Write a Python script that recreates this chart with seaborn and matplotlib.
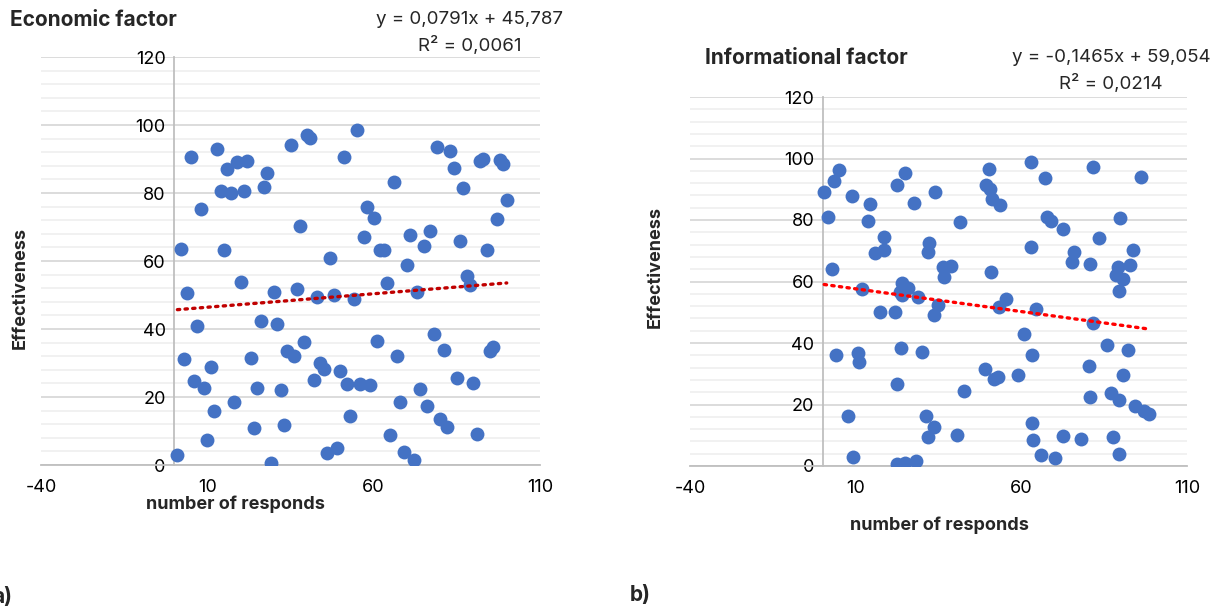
import numpy as np
import pandas as pd
import matplotlib
matplotlib.use("Agg")
import matplotlib.pyplot as plt
import seaborn as sns

# economic factor: responds 1..100, effectiveness
econ_x = list(range(1, 101))
econ_y = [3.0, 63.4, 31.2, 50.7, 90.7, 24.7, 40.9, 75.4, 22.7, 7.5,
          28.8, 15.9, 92.8, 80.6, 63.2, 87.0, 80.1, 18.4, 89.0, 53.8,
          80.6, 89.4, 31.6, 10.8, 22.6, 42.5, 81.7, 86.0, 0.5, 51.0,
          41.6, 22.1, 11.8, 33.6, 94.1, 32.1, 51.8, 70.2, 36.2, 97.0,
          96.2, 25.1, 49.5, 30.0, 28.2, 3.5, 60.8, 50.0, 5.0, 27.7,
          90.7, 23.7, 14.3, 48.8, 98.4, 23.9, 67.1, 76.0, 23.6, 72.6,
          36.6, 63.2, 63.2, 53.4, 8.8, 83.3, 32.0, 18.4, 3.9, 58.9,
          67.6, 1.5, 50.8, 22.5, 64.4, 17.3, 68.9, 38.4, 93.5, 13.6,
          33.9, 11.2, 92.4, 87.5, 25.7, 65.9, 81.6, 55.5, 52.9, 24.0,
          9.2, 89.4, 89.9, 63.2, 33.6, 34.8, 72.5, 89.6, 88.5, 77.8]

# informational factor
info_x = [0.5, 1.5, 3.4, 5.0, 3.0, 8.9, 14.3, 13.6, 18.5, 15.9,
          18.5, 11.8, 22.4, 24.9, 27.7, 33.9, 41.6, 32.1, 31.9, 36.4,
          38.7, 36.6, 50.2, 49.4, 50.5, 51.0, 53.7, 50.7, 63.0, 67.1,
          63.0, 67.7, 68.9, 72.5, 76.0, 75.4, 80.6, 81.5, 83.4, 89.9,
          96.1, 93.6, 92.9, 89.1, 88.6, 90.7, 89.5,
          23.9, 25.7, 23.5, 24.0,
          28.8, 34.7, 33.5, 17.2, 21.9, 53.4, 55.4, 64.4, 81.5, 4.0,
          10.8, 11.1, 23.7, 30.0, 22.6, 42.6, 49.0, 51.7, 53.0, 58.9,
          60.8, 63.1, 80.3, 86.0, 92.3, 90.7, 80.6, 87.0, 89.6, 94.3,
          96.9, 98.5, 7.7, 9.2, 31.2, 33.7, 31.7, 40.7, 22.6, 24.9,
          28.3, 63.1, 63.5, 65.9, 70.2, 72.6, 78.0, 87.7, 89.6]
info_y = [89.1, 81.0, 92.8, 96.4, 64.2, 87.8, 85.2, 79.6, 74.6, 69.2,
          70.2, 57.7, 91.4, 95.4, 85.4, 89.0, 79.5, 72.4, 69.6, 64.7,
          64.9, 61.5, 96.7, 91.4, 90.0, 86.7, 84.9, 63.1, 99.0, 93.6,
          71.2, 80.9, 79.7, 77.0, 69.7, 66.5, 65.8, 97.3, 74.0, 80.7,
          94.0, 70.2, 65.3, 64.8, 62.0, 60.7, 56.9,
          59.4, 57.8, 56.6, 55.6,
          54.9, 52.4, 49.2, 50.2, 50.2, 51.8, 54.2, 51.2, 46.4, 36.0,
          36.9, 33.8, 38.5, 37.0, 26.6, 24.4, 31.7, 28.2, 28.8, 29.5,
          42.8, 36.0, 32.5, 39.2, 37.6, 29.5, 22.4, 23.8, 21.6, 19.5,
          17.9, 17.0, 16.2, 3.0, 16.3, 12.7, 9.4, 10.2, 0.5, 1.1,
          1.6, 14.1, 8.5, 3.6, 2.5, 9.8, 8.7, 9.4, 3.8]

econ = pd.DataFrame({"responds": econ_x, "effectiveness": econ_y})
info = pd.DataFrame({"responds": info_x, "effectiveness": info_y})

sns.set_style("white")
plt.rcParams["font.family"] = ["Inter", "DejaVu Sans"]
plt.rcParams["axes.unicode_minus"] = False

fig = plt.figure(figsize=(12.2, 6.11), dpi=100)
ax1 = fig.add_axes([41 / 1220, 146 / 611, 499 / 1220, 408 / 611])
ax2 = fig.add_axes([690 / 1220, 145 / 611, 497 / 1220, 369 / 611])


def draw(ax, df, line_color):
    ax.set_axisbelow(True)
    ax.set_xlim(-40, 110)
    ax.set_ylim(0, 120)
    ax.set_xticks([-40, 10, 60, 110])
    ax.set_yticks(range(0, 121, 20))
    ax.set_yticks(range(0, 121, 4), minor=True)
    ax.grid(axis="y", which="major", color="#d9d9d9", lw=1.3)
    ax.grid(axis="y", which="minor", color="#f0f0f0", lw=1.3)
    for s in ["top", "right"]:
        ax.spines[s].set_visible(False)
    ax.spines["left"].set_position(("data", 0))
    ax.spines["left"].set_color("#bfbfbf")
    ax.spines["bottom"].set_color("#bfbfbf")
    ax.spines["left"].set_linewidth(1.3)
    ax.spines["bottom"].set_linewidth(1.3)
    ax.tick_params(axis="x", length=5, color="#bfbfbf", labelsize=13,
                   pad=5, labelcolor="black")
    ax.tick_params(axis="y", which="both", length=0, labelsize=13, pad=6,
                   labelcolor="black")
    sns.scatterplot(data=df, x="responds", y="effectiveness", ax=ax,
                    color="#4472c4", s=100, linewidth=0, alpha=1, zorder=3)
    sns.regplot(data=df, x="responds", y="effectiveness", ax=ax,
                scatter=False, ci=None,
                line_kws={"color": line_color, "lw": 2.4,
                          "linestyle": (0, (0.7, 1.6)),
                          "dash_capstyle": "round", "zorder": 4})


draw(ax1, econ, "#c00000")
draw(ax2, info, "#ff0000")

ax1.set_xlabel("number of responds", fontsize=13, fontweight="bold")
ax1.xaxis.set_label_coords(0.389, -0.074)
ax1.set_ylabel("Effectiveness", fontsize=13, fontweight="bold")
ax1.yaxis.set_label_coords(-0.024, 0.434)

ax2.set_xlabel("number of responds", fontsize=13, fontweight="bold")
ax2.xaxis.set_label_coords(0.501, -0.136)
ax2.set_ylabel("Effectiveness", fontsize=13, fontweight="bold")
ax2.yaxis.set_label_coords(-0.052, 0.538)

# titles and trendline equations
fig.text(10 / 1220, 1 - 20 / 611, "Economic factor", fontsize=15,
         fontweight="bold", ha="left", va="center")
fig.text(470 / 1220, 1 - 20 / 611, "y = 0,0791x + 45,787", fontsize=13.5,
         ha="center", va="center")
fig.text(470 / 1220, 1 - 45 / 611, "R² = 0,0061", fontsize=13.5,
         ha="center", va="center")

fig.text(705 / 1220, 1 - 58 / 611, "Informational factor", fontsize=15,
         fontweight="bold", ha="left", va="center")
fig.text(1111 / 1220, 1 - 58 / 611, "y = -0,1465x + 59,054", fontsize=13.5,
         ha="center", va="center")
fig.text(1111 / 1220, 1 - 83 / 611, "R² = 0,0214", fontsize=13.5,
         ha="center", va="center")

fig.text(-8 / 1220, 1 - 597 / 611, "a)", fontsize=15, fontweight="bold",
         ha="left", va="center")
fig.text(630 / 1220, 1 - 595 / 611, "b)", fontsize=15, fontweight="bold",
         ha="left", va="center")

fig.savefig("out.png", dpi=100)
